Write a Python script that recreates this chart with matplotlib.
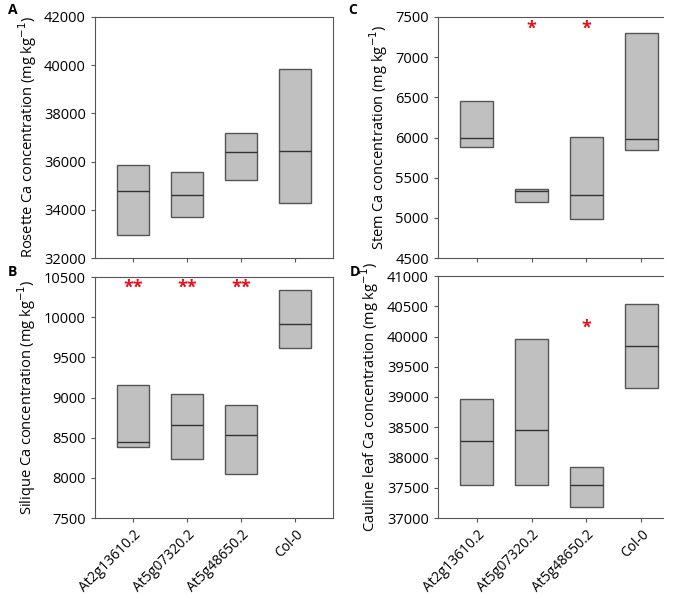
"""
Ca concentration in rosette, silique, stem and cauline leaf (four panels)
"""

import matplotlib

matplotlib.use("Agg")
import matplotlib.pyplot as plt

plt.rcParams["font.family"] = ["Open Sans", "DejaVu Sans"]

genotypes = ["At2g13610.2", "At5g07320.2", "At5g48650.2", "Col-0"]

# box bottom / median / top
rosette_low = [32950, 33700, 35250, 34300]
rosette_med = [34800, 34600, 36400, 36450]
rosette_high = [35850, 35550, 37200, 39850]

silique_low = [8390, 8230, 8050, 9610]
silique_med = [8450, 8660, 8530, 9920]
silique_high = [9150, 9040, 8910, 10340]
silique_stars = ["**", "**", "**", ""]

stem_low = [5880, 5200, 4990, 5845]
stem_med = [6000, 5340, 5280, 5985]
stem_high = [6450, 5360, 6010, 7300]
stem_stars = ["", "*", "*", ""]

cauline_low = [37540, 37540, 37190, 39150]
cauline_med = [38280, 38450, 37550, 39840]
cauline_high = [38970, 39960, 37850, 40530]
cauline_stars = ["", "", "*", ""]

W, H = 681, 596
fig = plt.figure(figsize=(W / 100, H / 100), dpi=100)


def add_axes(left, top, right, bottom):
    return fig.add_axes([left / W, 1 - bottom / H, (right - left) / W, (bottom - top) / H])


def draw_panel(ax, low, med, high, ylim, yticks, ylabel, stars=None, star_y=None,
               xlim=(-0.7, 3.7), right_spine=True, show_xlabels=False):
    x = range(len(genotypes))
    heights = [h - l for h, l in zip(high, low)]
    ax.bar(x, heights, bottom=low, width=0.6, color="#c0c0c0",
           edgecolor="#555555", linewidth=1.0, zorder=2)
    ax.hlines(med, [i - 0.3 for i in x], [i + 0.3 for i in x],
              color="#333333", linewidth=1.0, zorder=3)
    if stars:
        for i, s in enumerate(stars):
            if s:
                ax.text(i, star_y, s, color="#e8101a", fontsize=13,
                        fontweight="bold", ha="center", va="center")
    ax.set_xlim(*xlim)
    ax.set_ylim(*ylim)
    ax.set_yticks(yticks)
    ax.set_xticks(list(x))
    if show_xlabels:
        ax.set_xticklabels(genotypes, rotation=45, ha="right",
                           rotation_mode="anchor", fontsize=10)
    else:
        ax.set_xticklabels([])
    ax.tick_params(axis="y", labelsize=10.5, length=3, color="#555555")
    ax.tick_params(axis="x", length=3, color="#555555")
    ax.set_ylabel(ylabel, fontsize=10.5)
    for side in ["left", "right", "top", "bottom"]:
        ax.spines[side].set_color("#555555")
    ax.spines["right"].set_visible(right_spine)


ax_a = add_axes(95, 17, 333, 258)
draw_panel(ax_a, rosette_low, rosette_med, rosette_high, (32000, 42000),
           range(32000, 42001, 2000), "Rosette Ca concentration (mg kg$^{-1}$)")

ax_b = add_axes(95, 277, 333, 518)
draw_panel(ax_b, silique_low, silique_med, silique_high, (7500, 10500),
           range(7500, 10501, 500), "Silique Ca concentration (mg kg$^{-1}$)",
           stars=silique_stars, star_y=10370, show_xlabels=True)

ax_c = add_axes(438, 17, 663, 258)
draw_panel(ax_c, stem_low, stem_med, stem_high, (4500, 7500),
           range(4500, 7501, 500), "Stem Ca concentration (mg kg$^{-1}$)",
           stars=stem_stars, star_y=7360, xlim=(-0.71, 3.4), right_spine=False)

ax_d = add_axes(438, 276, 663, 518)
draw_panel(ax_d, cauline_low, cauline_med, cauline_high, (37000, 41000),
           range(37000, 41001, 500), "Cauline leaf Ca concentration (mg kg$^{-1}$)",
           stars=cauline_stars, star_y=40150, xlim=(-0.71, 3.4), right_spine=False,
           show_xlabels=True)

for letter, (px, py) in zip("ABCD", [(8, 10), (8, 272), (348, 10), (350, 272)]):
    fig.text(px / W, 1 - py / H, letter, fontsize=10, fontweight="bold",
             ha="left", va="center")

fig.savefig("out.png", dpi=100)
plt.close(fig)
